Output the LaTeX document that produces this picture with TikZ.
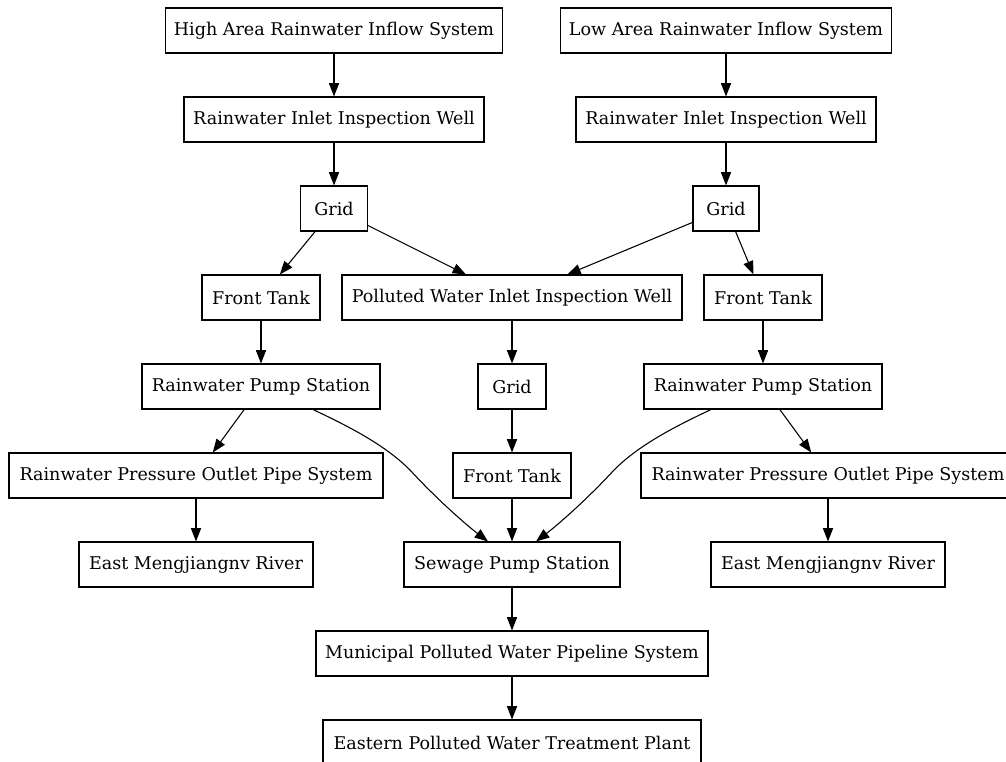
\documentclass[tikz,border=0pt]{standalone}
\usepackage{fontspec}
\setmainfont{DejaVu Serif}
\usetikzlibrary{arrows.meta,calc}
\tikzset{
  box/.style={draw, line width=0.8pt, minimum height=33.75pt, inner sep=0pt,
    minimum width=#1, font=\fontsize{13.15}{15}\selectfont},
  edge/.style={line width=0.8pt, -{Triangle[length=10pt,width=7.6pt]}}
}
\begin{document}
\begin{tikzpicture}[x=0.75pt,y=-0.75pt]
\useasboundingbox (0,0) rectangle (1006,762);
\node[box=252.75pt] (ha)   at (334,30.5)   {High Area Rainwater Inflow System};
\node[box=248.25pt] (la)   at (726,30.5)   {Low Area Rainwater Inflow System};
\node[box=225pt]    (riwl) at (334,119.5)  {Rainwater Inlet Inspection Well};
\node[box=225pt]    (riwr) at (726,119.5)  {Rainwater Inlet Inspection Well};
\node[box=50.25pt]  (gl)   at (334,208.5)  {Grid};
\node[box=49.5pt]   (gr)   at (726,208.5)  {Grid};
\node[box=88.5pt]   (ftl)  at (261,297.5)  {Front Tank};
\node[box=255pt]    (pw)   at (512,297.5)  {Polluted Water Inlet Inspection Well};
\node[box=88.5pt]   (ftr)  at (763,297.5)  {Front Tank};
\node[box=178.5pt]  (rpsl) at (261,386.5)  {Rainwater Pump Station};
\node[box=51pt]     (gm)   at (512,386.5)  {Grid};
\node[box=178.5pt]  (rpsr) at (763,386.5)  {Rainwater Pump Station};
\node[box=280.5pt]  (rpl)  at (196,475.5)  {Rainwater Pressure Outlet Pipe System};
\node[box=88.5pt]   (ftm)  at (512,475.5)  {Front Tank};
\node[box=280.5pt]  (rpr)  at (828,475.5)  {Rainwater Pressure Outlet Pipe System};
\node[box=175.5pt]  (eml)  at (196,564.5)  {East Mengjiangnv River};
\node[box=162pt]    (sps)  at (512,564.5)  {Sewage Pump Station};
\node[box=175.5pt]  (emr)  at (828,564.5)  {East Mengjiangnv River};
\node[box=294pt]    (mp)   at (512,653.5)  {Municipal Polluted Water Pipeline System};
\node[box=283.5pt]  (ep)   at (512,742.5)  {Eastern Polluted Water Treatment Plant};

\draw[edge] (ha) -- (riwl);
\draw[edge] (la) -- (riwr);
\draw[edge] (riwl) -- (gl);
\draw[edge] (riwr) -- (gr);
\draw[edge] (gl) -- (ftl);
\draw[edge] (gl) -- (pw);
\draw[edge] (gr) -- (pw);
\draw[edge] (gr) -- (ftr);
\draw[edge] (ftl) -- (rpsl);
\draw[edge] (pw) -- (gm);
\draw[edge] (ftr) -- (rpsr);
\draw[edge] (rpsl) -- (rpl);
\draw[edge] (rpsr) -- (rpr);
\draw[edge] (gm) -- (ftm);
\draw[edge] (ftm) -- (sps);
\draw[edge] (rpl) -- (eml);
\draw[edge] (rpr) -- (emr);
\draw[edge] (sps) -- (mp);
\draw[edge] (mp) -- (ep);
\draw[edge] ($(rpsl.south)+(52,0)$) .. controls (350,427) and (385,445) .. (410,470)
  .. controls (430,492) and (460,520) .. ($(sps.north)+(-24,0)$);
\draw[edge] ($(rpsr.south)+(-52,0)$) .. controls (674,427) and (639,445) .. (614,470)
  .. controls (594,492) and (564,520) .. ($(sps.north)+(24,0)$);
\end{tikzpicture}
\end{document}
